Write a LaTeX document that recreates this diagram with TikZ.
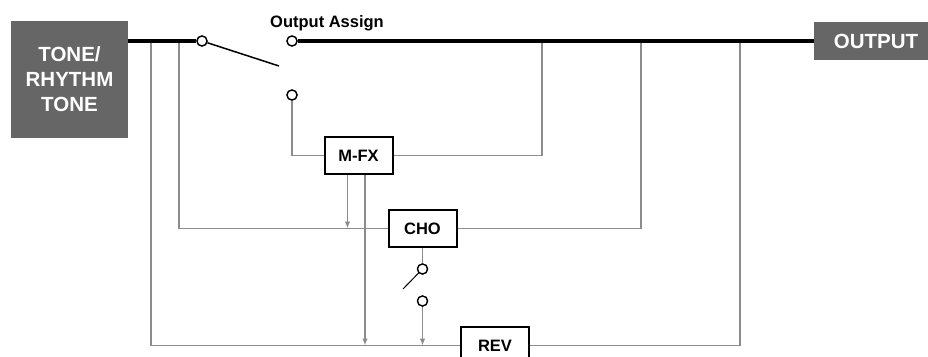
\documentclass[tikz,border=0pt]{standalone}
\usepackage{xcolor}
\usepackage{fontspec}
\setmainfont{Liberation Sans}
\usepackage{tikz}
\usetikzlibrary{arrows.meta, positioning}

\definecolor{srcgray}{HTML}{666666}
\definecolor{sendgray}{HTML}{8C8C8C}

\begin{document}
\begin{tikzpicture}[
        x=1pt, y=-1pt,
        srcbox/.style={
            fill=srcgray,
            text=white,
            font=\fontsize{20.5}{25}\selectfont\bfseries,
            align=center,
            inner sep=0pt
        },
        fxbox/.style={
            draw,
            line width=2pt,
            fill=white,
            minimum width=68pt,
            minimum height=37pt,
            inner sep=0pt,
            font=\fontsize{16.5}{19}\selectfont\bfseries
        },
        contact/.style={
            circle,
            draw,
            line width=1.3pt,
            fill=white,
            inner sep=0pt,
            minimum size=10pt
        },
        busline/.style={line width=3.5pt},
        sendline/.style={draw=sendgray, line width=1.3pt},
        sendarrow/.style={sendline, -{Latex[length=7pt, width=5.5pt]}},
        swarm/.style={line width=1.5pt}
    ]
        \clip (0,0) rectangle (928,356);

        % sources and effects
        \node[srcbox, minimum width=117pt, minimum height=117pt] (tone) at (69.5,79.5) {TONE/\\RHYTHM\\TONE};
        \node[srcbox, minimum width=124pt, minimum height=38pt] (output) at (876,41) {OUTPUT};

        \node[fxbox] (mfx) at (358.5,155.5) {M-FX};
        \node[fxbox] (cho) at (422.5,228.5) {CHO};
        \node[fxbox] (rev) at (495,345.5) {REV};

        % switch contacts
        \node[contact] (swIn) at (202,41) {};
        \node[contact] (swDry) at (292,41) {};
        \node[contact] (swFx) at (292,95) {};
        \node[contact] (choOn) at (422.5,269) {};
        \node[contact] (choRev) at (422.5,301) {};

        \node[anchor=base, font=\fontsize{16.5}{19}\selectfont\bfseries] (assign) at (327,27.5) {Output Assign};

        \coordinate (tapRev) at (151,41);
        \coordinate (tapCho) at (179,41);
        \coordinate (retMfx) at (542,41);
        \coordinate (retCho) at (641,41);
        \coordinate (retRev) at (740,41);
        \coordinate (armIn) at (279,66);
        \coordinate (armCho) at (403,289);

        % send and return lines
        \draw[sendline] (tapRev) |- (rev.west);
        \draw[sendline] (tapCho) |- (cho.west);
        \draw[sendline] (swFx) |- (mfx.west);
        \draw[sendline] (mfx.east) -| (retMfx);
        \draw[sendline] (cho.east) -| (retCho);
        \draw[sendline] (rev.east) -| (retRev);
        \draw[sendline] (cho.south) -- (choOn);
        \draw[sendarrow] ([xshift=-11pt]mfx.south) -- ([xshift=-11pt]mfx.south |- cho.west);
        \draw[sendarrow] ([xshift=6.5pt]mfx.south) -- ([xshift=6.5pt]mfx.south |- rev.west);
        \draw[sendarrow] (choRev) -- (choRev |- rev.west);

        % main bus
        \draw[busline] (tone.east |- swIn) -- (swIn);
        \draw[busline] (swDry) -- (output.west |- swDry);
        \draw[swarm] (swIn) -- (armIn);
        \draw[line width=1pt] (choOn) -- (armCho);

        % redraw on top
        \node[fxbox] at (mfx) {M-FX};
        \node[fxbox] at (cho) {CHO};
        \node[fxbox] at (rev) {REV};
        \foreach \c in {swIn, swDry, swFx, choOn, choRev}
            \node[contact] at (\c) {};
    \end{tikzpicture}
\end{document}
